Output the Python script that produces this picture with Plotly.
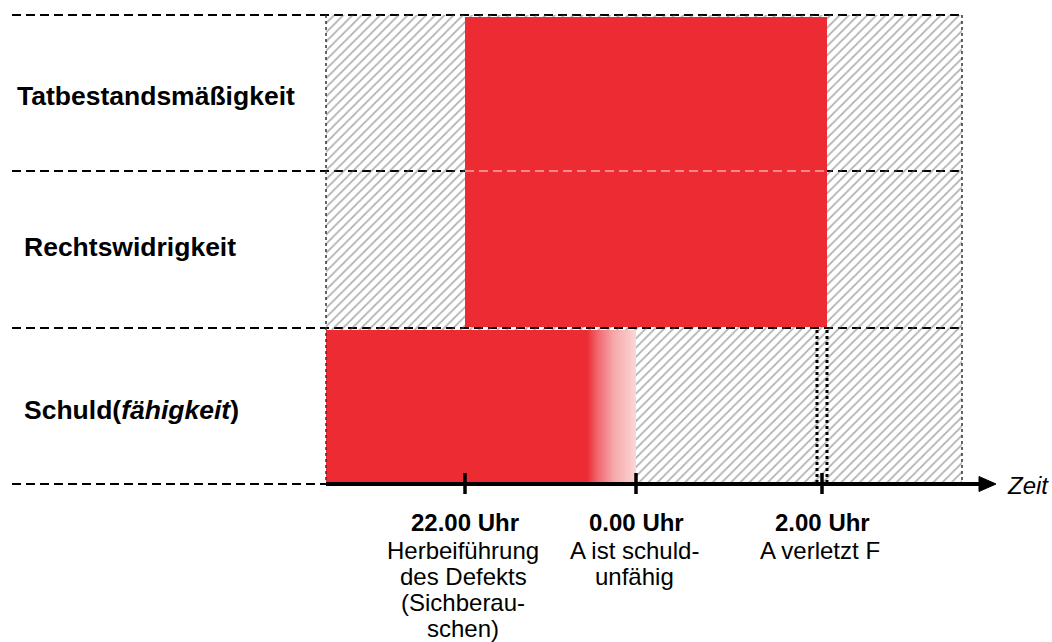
import plotly.graph_objects as go

W, H = 1052, 642

# --- rows (legal elements) ---
row_labels = ["<b>Tatbestandsmäßigkeit</b>", "<b>Rechtswidrigkeit</b>", "<b>Schuld(<i>fähigkeit</i>)</b>"]
row_bounds = [15, 171, 328, 484]          # separators on the vertical diagram axis (top -> bottom)
label_x = [15, 22, 22]
label_y = [96, 247, 410]

# --- time axis ---
time_labels = ["22.00 Uhr", "0.00 Uhr", "2.00 Uhr"]
time_pos = [465, 636, 822]                # positions on the schematic time axis
time_desc = [["Herbeiführung", "des Defekts", "(Sichberau-", "schen)"],
             ["A ist schuld-", "unfähig"],
             ["A verletzt F"]]

# --- phases on the time axis ---
hatch_span = [326, 962]                   # considered time window
tat_rw_span = [465, 827]                  # Tatbestand + Rechtswidrigkeit present
schuld_span = [326, 587]                  # Schuldfähigkeit present
schuld_fade = [587, 636]                  # Schuldfähigkeit fading
act_lines = [817, 827]                    # the act (dotted)
axis_end = 996

RED = "#ED2B33"
FONT = "Arial, Liberation Sans, sans-serif"

fig = go.Figure()

def rect(x0, x1, y0, y1):
    return [x0, x1, x1, x0, x0], [y0, y0, y1, y1, y0]

# hatched background
hx, hy = rect(hatch_span[0], hatch_span[1], row_bounds[0], row_bounds[-1])
fig.add_trace(go.Scatter(x=hx, y=hy, fill="toself", mode="none",
                         fillcolor="rgba(0,0,0,0)",
                         fillpattern=dict(shape="/", fgcolor="#616161", bgcolor="rgba(0,0,0,0)",
                                          size=6.5, solidity=0.27),
                         hoverinfo="skip", showlegend=False))

# Tatbestand + Rechtswidrigkeit block
rx, ry = rect(tat_rw_span[0], tat_rw_span[1], row_bounds[0] + 2, row_bounds[2] - 1)
fig.add_trace(go.Scatter(x=rx, y=ry, fill="toself", mode="none", fillcolor=RED,
                         hoverinfo="skip", showlegend=False))

# Schuld block
sx, sy = rect(schuld_span[0], schuld_span[1], row_bounds[2] + 2, row_bounds[3])
fig.add_trace(go.Scatter(x=sx, y=sy, fill="toself", mode="none", fillcolor=RED,
                         hoverinfo="skip", showlegend=False))

# fading Schuld
fx, fy = rect(schuld_fade[0], schuld_fade[1], row_bounds[2] + 2, row_bounds[3])
fig.add_trace(go.Scatter(x=fx, y=fy, fill="toself", mode="none",
                         fillgradient=dict(type="horizontal",
                                           colorscale=[[0, RED], [0.2, "#F0636A"],
                                                       [0.55, "#F6A9AC"], [1, "#FCD6D6"]]),
                         hoverinfo="skip", showlegend=False))

shapes = []
# dashed row separators (below traces)
for yb in row_bounds[:3]:
    shapes.append(dict(type="line", x0=12, x1=hatch_span[1], y0=yb, y1=yb, layer="below",
                       line=dict(color="black", width=2, dash="9px,5px")))
shapes.append(dict(type="line", x0=12, x1=hatch_span[0], y0=row_bounds[3], y1=row_bounds[3],
                   layer="below", line=dict(color="black", width=2, dash="9px,5px")))
# faint white dashes over red middle separator
shapes.append(dict(type="line", x0=tat_rw_span[0], x1=tat_rw_span[1], y0=row_bounds[1], y1=row_bounds[1],
                   line=dict(color="rgba(255,255,255,0.6)", width=1.5, dash="9px,5px")))
# hatch borders
for xb in hatch_span:
    shapes.append(dict(type="line", x0=xb, x1=xb, y0=row_bounds[0], y1=row_bounds[3],
                       line=dict(color="#333333", width=1.5, dash="dot")))
# act lines
for xa in act_lines:
    shapes.append(dict(type="line", x0=xa, x1=xa, y0=row_bounds[2] + 2, y1=row_bounds[3],
                       line=dict(color="black", width=3, dash="dot")))
# time axis
shapes.append(dict(type="line", x0=hatch_span[0], x1=axis_end - 14, y0=row_bounds[3], y1=row_bounds[3],
                   line=dict(color="black", width=4)))
ya = row_bounds[3]
shapes.append(dict(type="path",
                   path=f"M {axis_end-17},{ya-7.5} L {axis_end},{ya} L {axis_end-17},{ya+7.5} Z",
                   fillcolor="black", line=dict(color="black", width=1)))
for tp in time_pos:
    shapes.append(dict(type="line", x0=tp, x1=tp, y0=ya - 11, y1=ya + 10,
                       line=dict(color="black", width=3.5)))

annotations = []
for lab, lx, ly in zip(row_labels, label_x, label_y):
    annotations.append(dict(x=lx, y=ly, text=lab, showarrow=False, xanchor="left", yanchor="middle",
                            font=dict(family=FONT, size=26.5, color="black")))
for tl, tp, desc in zip(time_labels, time_pos, time_desc):
    annotations.append(dict(x=tp, y=522, text=f"<b>{tl}</b>", showarrow=False,
                            xanchor="center", yanchor="middle",
                            font=dict(family=FONT, size=24, color="black")))
    for i, line in enumerate(desc):
        annotations.append(dict(x=tp - 2, y=550 + 26 * i, text=line, showarrow=False,
                                xanchor="center", yanchor="middle",
                                font=dict(family=FONT, size=24, color="black")))
annotations.append(dict(x=1005, y=485, text="<i>Zeit</i>", showarrow=False, xanchor="left",
                        yanchor="middle", font=dict(family=FONT, size=24, color="black")))

fig.update_layout(
    width=W, height=H, margin=dict(l=0, r=0, t=0, b=0),
    paper_bgcolor="white", plot_bgcolor="white",
    xaxis=dict(range=[0, W], visible=False, fixedrange=True),
    yaxis=dict(range=[H, 0], visible=False, fixedrange=True),
    shapes=shapes, annotations=annotations, showlegend=False,
)

fig.write_html("out.html", config={"displayModeBar": False},
               post_script="document.body.style.margin='0';document.body.style.overflow='hidden';")
